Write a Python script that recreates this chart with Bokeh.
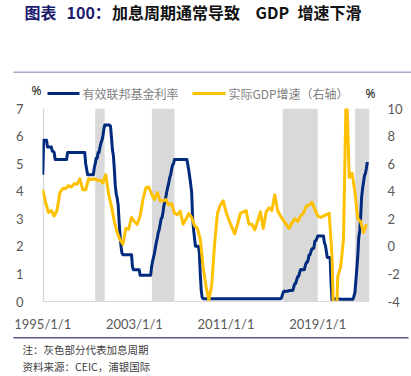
from bokeh.plotting import figure
from bokeh.layouts import column
from bokeh.models import Range1d, LinearAxis, FixedTicker, Label, BoxAnnotation
from bokeh.embed import file_html
from bokeh.resources import INLINE

# ---------------- data ----------------
# Effective federal funds rate (%), monthly, Jan 1995 .. May 2023
fed_1995_1999 = [
    4.6, 5.85, 5.85, 5.85, 5.85, 5.6, 5.6, 5.6, 5.6, 5.6, 5.45, 5.45,
    5.4, 5.15, 5.15, 5.15, 5.15, 5.15, 5.15, 5.15, 5.15, 5.15, 5.15, 5.15,
    5.15, 5.15, 5.4, 5.4, 5.4, 5.4, 5.4, 5.4, 5.4, 5.4, 5.4, 5.4,
    5.4, 5.4, 5.4, 5.4, 5.4, 5.4, 5.4, 5.4, 5.4, 5.0, 4.8, 4.6,
    4.6, 4.6, 4.6, 4.6, 4.6, 4.6, 4.85, 5.0, 5.2, 5.2, 5.4, 5.4,
]
fed_2000_2004 = [
    5.6, 5.75, 5.85, 6.0, 6.25, 6.4, 6.4, 6.4, 6.4, 6.4, 6.4, 6.35,
    5.95, 5.5, 5.3, 4.8, 4.2, 3.9, 3.75, 3.5, 2.9, 2.4, 2.0, 1.75,
    1.7, 1.7, 1.7, 1.7, 1.7, 1.7, 1.7, 1.7, 1.7, 1.7, 1.25, 1.15,
    1.15, 1.15, 1.15, 1.15, 1.15, 1.15, 0.95, 0.95, 0.95, 0.95, 0.95, 0.95,
    0.95, 0.95, 0.95, 0.95, 0.95, 0.95, 1.25, 1.45, 1.6, 1.75, 1.95, 2.15,
]
fed_2005_2009 = [
    2.3, 2.5, 2.6, 2.8, 3.0, 3.05, 3.25, 3.5, 3.6, 3.8, 4.0, 4.15,
    4.3, 4.5, 4.6, 4.8, 4.95, 5.0, 5.15, 5.15, 5.15, 5.15, 5.15, 5.15,
    5.15, 5.15, 5.15, 5.15, 5.15, 5.15, 5.15, 5.15, 4.95, 4.75, 4.5, 4.25,
    3.95, 3.0, 2.6, 2.3, 2.0, 2.0, 2.0, 2.0, 1.8, 1.0, 0.4, 0.15,
    0.1, 0.1, 0.1, 0.1, 0.1, 0.1, 0.1, 0.1, 0.1, 0.1, 0.1, 0.1,
]
fed_2010_2014 = [
    0.1, 0.1, 0.1, 0.1, 0.1, 0.1, 0.1, 0.1, 0.1, 0.1, 0.1, 0.1,
    0.1, 0.1, 0.1, 0.1, 0.1, 0.1, 0.1, 0.1, 0.1, 0.1, 0.1, 0.1,
    0.1, 0.1, 0.1, 0.1, 0.1, 0.1, 0.1, 0.1, 0.1, 0.1, 0.1, 0.1,
    0.1, 0.1, 0.1, 0.1, 0.1, 0.1, 0.1, 0.1, 0.1, 0.1, 0.1, 0.1,
    0.1, 0.1, 0.1, 0.1, 0.1, 0.1, 0.1, 0.1, 0.1, 0.1, 0.1, 0.1,
]
fed_2015_2019 = [
    0.1, 0.1, 0.1, 0.1, 0.1, 0.1, 0.1, 0.1, 0.1, 0.1, 0.12, 0.24,
    0.35, 0.38, 0.36, 0.37, 0.37, 0.38, 0.39, 0.4, 0.4, 0.4, 0.41, 0.54,
    0.65, 0.66, 0.79, 0.9, 0.91, 1.04, 1.15, 1.16, 1.15, 1.15, 1.16, 1.3,
    1.41, 1.42, 1.51, 1.69, 1.7, 1.82, 1.91, 1.91, 1.95, 2.19, 2.2, 2.27,
    2.38, 2.38, 2.38, 2.38, 2.38, 2.38, 2.38, 2.13, 2.04, 1.83, 1.6, 1.6,
]
fed_2020_2023 = [
    1.6, 1.6, 0.65, 0.05, 0.05, 0.08, 0.09, 0.1, 0.09, 0.09, 0.09, 0.09,
    0.08, 0.08, 0.08, 0.08, 0.08, 0.08, 0.08, 0.08, 0.08, 0.08, 0.08, 0.08,
    0.08, 0.08, 0.2, 0.33, 0.77, 1.21, 1.68, 2.33, 2.56, 3.08, 3.78, 4.1,
    4.33, 4.57, 4.65, 4.83, 5.06,
]
fed_rate = fed_1995_1999 + fed_2000_2004 + fed_2005_2009 + fed_2010_2014 + fed_2015_2019 + fed_2020_2023
fed_start_year = 1995.0

# Real GDP growth, y/y (%), quarterly, 1994Q4 .. 2023Q1 (plotted at quarter end)
gdp_growth = [
    4.1,
    3.2, 2.45, 2.6, 2.2,
    2.6, 3.9, 4.2, 4.2,
    4.4, 4.3, 4.55, 4.5,
    4.9, 4.1, 4.1, 4.9,
    4.85, 4.9, 4.8, 4.8,
    4.6, 5.2, 3.8, 2.9,
    1.8, 1.0, 0.5, 0.16,
    1.3, 1.24, 2.1, 1.8,
    1.6, 2.2, 3.4, 4.25,
    4.3, 3.8, 3.4, 3.9,
    3.3, 3.3, 3.4, 3.0,
    3.1, 2.4, 2.3, 2.55,
    1.6, 1.96, 2.4, 2.1,
    1.5, 1.3, 0.5, -1.5,
    -2.9, -3.9, -2.8, 0.2,
    2.4, 3.0, 3.3, 2.5,
    1.9, 1.4, 0.9, 1.6,
    2.4, 2.5, 2.6, 1.6,
    1.6, 1.2, 1.8, 2.5,
    1.3, 2.5, 2.8, 2.6,
    3.75, 2.6, 2.2, 1.9,
    1.6, 1.3, 1.7, 2.0,
    1.8, 2.2, 2.4, 2.9,
    3.0, 3.2, 2.7, 2.2,
    2.1, 2.2, 2.3, 2.4,
    -0.7, -9.0, -2.2, -1.5,
    0.5, 12.0, 5.0, 5.3,
    3.9, 2.0, 1.8, 1.0,
    1.6,
]
gdp_start_year = 1995.0

# Rate-hiking cycles (grey shading), in fractional years
hike_start = [1995.0, 1999.58, 2004.53, 2015.95, 2022.27]
hike_end = [1995.13, 2000.40, 2006.50, 2019.00, 2023.52]

x_ticks = [1995, 2003, 2011, 2019]
x_tick_labels = ["1995/1/1", "2003/1/1", "2011/1/1", "2019/1/1"]
left_ticks = [0, 1, 2, 3, 4, 5, 6, 7]
right_ticks = [-4, -2, 0, 2, 4, 6, 8, 10]

fed_x = [fed_start_year + i / 12.0 for i in range(len(fed_rate))]
gdp_x = [gdp_start_year + i / 4.0 for i in range(len(gdp_growth))]

# ---------------- styles ----------------
NAVY = "#002A7D"
GOLD = "#FFC000"
GREY_TXT = "#595959"
NUM_FONT = "Lato"
CJK = "Noto Sans CJK SC"
W = 411
HEAD_H = 100
MAIN_H = 234
FOOT_H = 376 - HEAD_H - MAIN_H


def blank(height):
    f = figure(width=W, height=height, output_backend="svg", toolbar_location=None,
               x_range=Range1d(0, W), y_range=Range1d(0, height),
               x_axis_type=None, y_axis_type=None,
               min_border_left=0, min_border_right=0, min_border_top=0, min_border_bottom=0)
    f.outline_line_color = None
    f.xgrid.visible = False
    f.ygrid.visible = False
    f.background_fill_color = "white"
    f.border_fill_color = "white"
    return f


def lab(f, text, x, y, size, color, font=CJK, style="normal"):
    f.add_layout(Label(x=x, y=y, x_units="canvas", y_units="canvas", text=text,
                       text_font=font, text_font_size=size, text_color=color,
                       text_font_style=style, text_baseline="middle", text_align="left"))


def box(f, l, r, t, b, color):
    f.add_layout(BoxAnnotation(left=l, right=r, top=t, bottom=b,
                               left_units="canvas", right_units="canvas",
                               top_units="canvas", bottom_units="canvas",
                               fill_color=color, fill_alpha=1.0, line_color=None))


# ---------------- header: title, rule, legend ----------------
head = blank(HEAD_H)
lab(head, "图表", 24, 11, "16px", "#1B1A6E", style="bold")
lab(head, "100：", 66, 11, "16px", "#1B1A6E", style="bold")
lab(head, "加息周期通常导致", 111.5, 11, "16px", "#111111", style="bold")
lab(head, "GDP", 255, 11, "16px", "#111111", style="bold")
lab(head, "增速下滑", 297, 11, "16px", "#111111", style="bold")
box(head, 13, 411, 71, 72.5, "#A7A4D0")
lab(head, "%", 31, 90, "12px", "#111111", font="Noto Sans")
box(head, 47, 79, 91.5, 94.5, NAVY)
lab(head, "有效联邦基金利率", 82, 92.5, "12px", "#7F7F7F")
box(head, 192, 225, 91.5, 94.5, GOLD)
lab(head, "实际GDP增速（右轴）", 228, 92.5, "12px", "#7F7F7F")
lab(head, "%", 365, 92.5, "12px", "#111111", font="Noto Sans")

# ---------------- main chart ----------------
p = figure(width=W, height=MAIN_H, output_backend="svg", toolbar_location=None,
           x_range=Range1d(1994.98, 2023.52), y_range=Range1d(0, 7),
           min_border_left=42, min_border_right=42, min_border_top=8, min_border_bottom=31)
p.extra_y_ranges = {"gdp": Range1d(-4, 10)}
p.outline_line_color = None
p.xgrid.visible = False
p.ygrid.visible = False
p.background_fill_color = "white"
p.border_fill_color = "white"

xa = p.xaxis[0]
xa.ticker = FixedTicker(ticks=x_ticks)
xa.major_label_overrides = {t: l for t, l in zip(x_ticks, x_tick_labels)}
xa.axis_line_color = "#D9D9D9"
xa.major_tick_line_color = None
xa.minor_tick_line_color = None
xa.major_label_standoff = 8
xa.major_label_text_font = NUM_FONT
xa.major_label_text_font_size = "13px"
xa.major_label_text_color = GREY_TXT

ya = p.yaxis[0]
ya.ticker = FixedTicker(ticks=left_ticks)
ya.axis_line_color = None
ya.major_tick_line_color = None
ya.minor_tick_line_color = None
ya.major_label_standoff = 13
ya.major_label_text_font = NUM_FONT
ya.major_label_text_font_size = "13px"
ya.major_label_text_color = GREY_TXT

ra = LinearAxis(y_range_name="gdp", ticker=FixedTicker(ticks=right_ticks))
ra.major_label_overrides = {t: str(t) for t in right_ticks}
ra.axis_line_color = None
ra.major_tick_line_color = None
ra.minor_tick_line_color = None
ra.major_label_standoff = 12
ra.major_label_text_font = NUM_FONT
ra.major_label_text_font_size = "13px"
ra.major_label_text_color = GREY_TXT
p.add_layout(ra, "right")

p.quad(left=hike_start, right=hike_end, bottom=0, top=7, fill_color="#D9D9D9", line_color=None)
p.line(fed_x, fed_rate, line_color=NAVY, line_width=3, line_join="round")
p.line(gdp_x, gdp_growth, line_color=GOLD, line_width=3, line_join="round", y_range_name="gdp")

# ---------------- footer: rule + notes ----------------
foot = blank(FOOT_H)
box(foot, 13, 408, 2.5, 4, "#5B5A8E")
lab(foot, "注：灰色部分代表加息周期", 22, 15, "10.5px", "#404040")
lab(foot, "资料来源：CEIC，浦银国际", 22, 32, "10.5px", "#404040")

# nested columns keep the header/footer frames from being aligned to the chart frame
layout = column(column(head), p, column(foot), spacing=0)
open("out.html", "w").write(file_html(layout, INLINE))
